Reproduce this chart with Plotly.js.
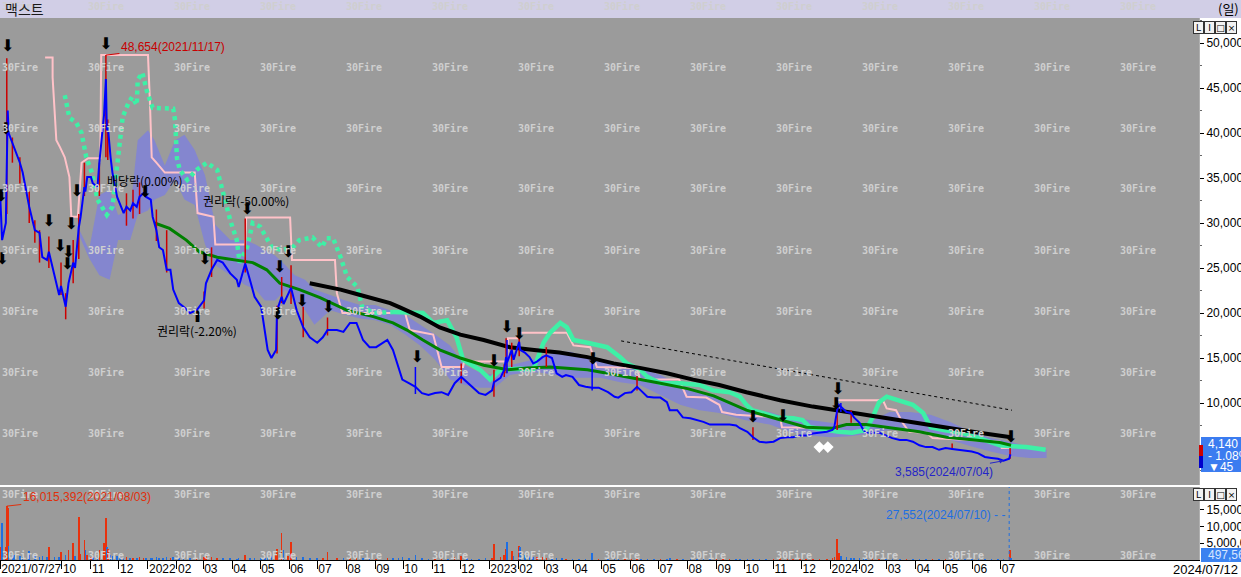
<!DOCTYPE html>
<html><head><meta charset="utf-8">
<script src="https://cdn.plot.ly/plotly-3.0.1.min.js"></script>
<style>html,body{margin:0;padding:0;background:#fff;overflow:hidden}#chart{width:1241px;height:577px}</style>
</head><body><div id="chart"></div>
<script>
// ---------- DATA ----------
const stockName = '맥스트';
const periodLabel = '(일)';

const dates = [
'2021-07-27','2021-07-29','2021-08-02','2021-08-03','2021-08-04','2021-08-05','2021-08-09','2021-08-11','2021-08-17','2021-08-20','2021-08-27',
'2021-09-02','2021-09-07','2021-09-10','2021-09-15','2021-09-17','2021-09-23','2021-09-28','2021-09-30',
'2021-10-05','2021-10-08','2021-10-13','2021-10-15','2021-10-19','2021-10-21','2021-10-25','2021-10-26','2021-10-28',
'2021-11-01','2021-11-03','2021-11-08','2021-11-10','2021-11-15','2021-11-17','2021-11-18','2021-11-19','2021-11-22','2021-11-24','2021-11-29',
'2021-12-02','2021-12-06','2021-12-09','2021-12-13','2021-12-16','2021-12-20','2021-12-23','2021-12-27','2021-12-30',
'2022-01-04','2022-01-06','2022-01-10','2022-01-13','2022-01-17','2022-01-21','2022-01-25','2022-01-28',
'2022-02-03','2022-02-08','2022-02-15','2022-02-22',
'2022-03-02','2022-03-04','2022-03-10','2022-03-16','2022-03-22','2022-03-30',
'2022-04-06','2022-04-08','2022-04-15','2022-04-20','2022-04-25',
'2022-05-02','2022-05-06','2022-05-09','2022-05-13','2022-05-18','2022-05-19','2022-05-24','2022-05-26','2022-05-31',
'2022-06-03','2022-06-09','2022-06-16','2022-06-23',
'2022-07-01','2022-07-07','2022-07-12','2022-07-22','2022-07-29','2022-08-05','2022-08-12','2022-08-19','2022-08-26',
'2022-09-02','2022-09-14','2022-09-20','2022-09-26','2022-09-30','2022-10-07','2022-10-14','2022-10-21','2022-10-28',
'2022-11-04','2022-11-11','2022-11-18','2022-11-25','2022-12-02','2022-12-08','2022-12-13','2022-12-21','2022-12-28',
'2023-01-04','2023-01-06','2023-01-13','2023-01-17','2023-01-19','2023-01-20','2023-01-25','2023-01-27',
'2023-02-02','2023-02-03','2023-02-08','2023-02-13','2023-02-17','2023-02-21','2023-02-27',
'2023-03-03','2023-03-09','2023-03-14','2023-03-20','2023-03-24','2023-03-31',
'2023-04-07','2023-04-14','2023-04-21','2023-04-28','2023-05-08','2023-05-15','2023-05-19','2023-05-26',
'2023-06-02','2023-06-08','2023-06-12','2023-06-19','2023-06-26','2023-07-03','2023-07-10','2023-07-13','2023-07-21','2023-07-27',
'2023-08-04','2023-08-11','2023-08-18','2023-08-25','2023-09-01','2023-09-08','2023-09-15','2023-09-22','2023-09-26',
'2023-10-04','2023-10-10','2023-10-17','2023-10-24','2023-11-01','2023-11-08','2023-11-16','2023-11-22','2023-11-29','2023-12-06','2023-12-13','2023-12-20','2023-12-28',
'2024-01-03','2024-01-05','2024-01-08','2024-01-10','2024-01-12','2024-01-18','2024-01-23','2024-01-26',
'2024-02-01','2024-02-05','2024-02-08','2024-02-15','2024-02-22','2024-02-29','2024-03-07','2024-03-15','2024-03-22','2024-03-29',
'2024-04-05','2024-04-12','2024-04-19','2024-04-26','2024-05-03','2024-05-10','2024-05-17','2024-05-24','2024-05-31',
'2024-06-07','2024-06-14','2024-06-21','2024-06-28','2024-07-04','2024-07-08','2024-07-10','2024-07-11','2024-07-12'
];
const closeValues = [
33000,28100,30000,40300,42500,40000,38900,38400,36700,35600,31800,
29200,28900,26200,25900,26800,24000,22000,23000,
20700,23300,25600,25000,29500,30700,34000,33500,35100,
35100,34400,34000,36700,42000,46000,40300,40800,37300,35600,32900,
32200,31100,31800,31400,32200,31800,32900,33300,32900,
32600,30700,29200,27300,27000,24800,24800,22600,
21100,20700,20000,20300,
21400,23300,24800,25900,25600,24400,
23700,22900,25500,23700,21800,
20700,18100,15900,15000,15900,20300,21800,21000,22200,
22800,20300,18400,17300,
16700,17300,18100,18100,17900,18900,18900,17000,16200,
16200,17000,15900,14000,12600,12200,11800,11100,10900,
11100,11200,10900,12200,12900,12300,11800,11100,10900,
11400,12300,12800,13700,15100,14500,15900,14800,
16800,15900,15600,15100,14400,14600,15100,
15300,15000,13300,12900,13100,12900,
12000,11800,11700,11700,11200,10700,10600,11100,
11200,11800,11400,10700,10600,10600,10100,9200,9200,8400,
8300,8100,7900,7600,7600,7600,7600,7500,7200,
6800,6200,5700,5600,5700,6100,6200,6200,6400,6400,6600,6700,6800,
7000,7300,9200,9800,9600,9000,8900,8400,
7800,7000,6700,6700,6700,6400,6100,5900,5900,5700,
5300,5100,5100,4800,5000,4900,4800,4700,4600,
4400,4000,3900,3800,3585,3700,3800,4185,4140
];
const volumeValues = [
3800000,11000000,4000000,16015392,15400000,4300000,2000000,1500000,1200000,1000000,2600000,
1200000,900000,1100000,800000,3800000,900000,1000000,2300000,
1500000,2900000,5200000,1200000,12800000,1800000,6000000,2900000,1500000,
900000,1000000,800000,2900000,5200000,12500000,4000000,3400000,1500000,1200000,1300000,
800000,700000,900000,600000,700000,600000,800000,700000,500000,
500000,700000,800000,700000,600000,900000,500000,800000,
700000,500000,600000,500000,
900000,1200000,800000,700000,500000,500000,
400000,500000,1500000,600000,500000,
600000,700000,900000,1100000,1500000,3400000,8100000,2900000,1200000,
5500000,900000,800000,700000,
600000,700000,2300000,600000,500000,700000,500000,600000,500000,
400000,600000,500000,700000,800000,500000,1500000,500000,400000,
400000,500000,400000,800000,1300000,500000,400000,400000,500000,
600000,4900000,1000000,1500000,3400000,5500000,2800000,1200000,
4300000,3800000,1500000,1200000,1000000,800000,900000,
700000,600000,500000,500000,400000,400000,
400000,300000,2000000,300000,300000,300000,300000,400000,
300000,700000,300000,300000,300000,300000,300000,600000,300000,400000,
300000,300000,300000,300000,300000,400000,300000,300000,300000,
300000,400000,350000,300000,300000,600000,300000,300000,300000,300000,300000,400000,300000,
500000,1000000,6300000,2000000,1200000,800000,600000,500000,
500000,500000,400000,300000,300000,300000,300000,300000,300000,300000,
300000,300000,300000,300000,300000,600000,300000,300000,300000,
300000,300000,300000,250000,300000,150000,27552,2900000,497565
];

// up-day (red) wick ranges
const upWickDates = ['2021-08-03','2021-08-09','2021-08-17','2021-09-02','2021-09-07','2021-09-30','2021-10-05','2021-10-13','2021-10-25','2021-11-10',
'2021-11-17','2021-12-09','2021-12-23','2022-01-21','2022-03-02','2022-03-10','2022-04-15','2022-05-24','2022-06-03','2022-06-16',
'2022-07-12','2022-12-02','2023-01-06','2023-01-19','2023-01-25','2023-02-02','2023-03-03','2023-06-08','2023-10-10','2024-01-08',
'2024-01-23','2024-05-10','2024-07-11','2021-08-27','2021-09-17','2021-10-19','2021-11-19','2021-12-16','2022-01-10','2022-05-19','2023-01-17'];
const upWickHigh = [48300,39500,37300,30300,29200,25600,22200,28100,36700,36700,
48654,33300,34500,29200,22400,27300,30500,24000,25300,20700,
19500,14400,13700,17200,16700,17800,16200,13100,7300,10300,
9200,5500,5000,33500,28500,31000,41500,33700,31500,20800,14300];
const upWickLow = [31000,36700,34400,27800,25600,22000,19300,23300,33000,33000,
37300,29700,31000,24500,20500,24000,24500,21100,21000,17300,
17500,12200,10700,13300,14000,15200,14000,11400,5900,7000,
7800,4900,3800,30000,25000,26000,37000,30500,28000,15500,12900];
// down-day (blue) wick ranges
const downWickDates = ['2022-10-14','2023-01-20','2023-04-21','2024-01-12'];
const downWickHigh = [14000,17000,14800,10000];
const downWickLow = [11000,13300,11400,9000];

// price channel (pink step line)
const channelDates = ['2021-09-13','2021-09-21','2021-09-21','2021-09-25','2021-09-29','2021-10-04','2021-10-09','2021-10-11','2021-10-18','2021-10-22',
'2021-10-29','2021-11-11','2021-11-12','2022-01-01','2022-01-03','2022-01-05','2022-01-10','2022-01-17','2022-01-19','2022-02-20',
'2022-02-23','2022-03-12','2022-03-14','2022-04-15','2022-04-16','2022-06-02','2022-06-04','2022-07-20','2022-07-22','2022-07-26',
'2022-07-28','2022-10-03','2022-10-08','2022-11-02','2022-11-06','2022-11-11','2022-12-04','2022-12-05','2023-01-20','2023-01-21',
'2023-02-01','2023-02-03','2023-03-25','2023-04-01','2023-04-19','2023-04-26','2023-06-08','2023-06-11','2023-07-23','2023-07-31',
'2023-08-21','2023-09-04','2023-09-07','2023-09-22','2023-11-08','2023-11-10','2024-01-07','2024-01-08','2024-02-26','2024-03-01',
'2024-03-11','2024-03-18','2024-03-25','2024-04-13','2024-04-19','2024-06-30','2024-07-02','2024-07-12'];
const channelValues = [48400,48400,46200,39200,38400,37300,35100,30700,30700,36700,
37200,37200,48654,48654,43700,37300,36700,35900,35600,35600,
31100,30700,27600,27600,30600,30600,25900,25900,22200,20700,
20000,20000,18100,17600,15900,14000,14000,14600,14600,17200,
17200,17800,17800,16400,16200,14000,13900,12600,12600,10700,
10600,9800,9000,8700,8400,7300,7200,10300,10300,9400,
9200,7800,6800,6700,6100,5700,5000,5000];

// mint line
const mintDates = ['2021-10-04','2021-10-09','2021-10-16','2021-10-22','2021-10-27','2021-11-02','2021-11-08','2021-11-18','2021-11-24','2021-11-30',
'2021-12-05','2021-12-11','2021-12-15','2021-12-20','2021-12-21','2021-12-26','2021-12-31','2022-01-06','2022-01-28','2022-01-30',
'2022-02-01','2022-02-04','2022-02-12','2022-02-22','2022-03-05','2022-03-16','2022-03-22','2022-03-30','2022-04-06','2022-04-09',
'2022-04-17','2022-04-23','2022-05-01','2022-05-08','2022-05-14','2022-05-25','2022-06-05','2022-06-12','2022-06-26','2022-07-06',
'2022-07-11','2022-07-18','2022-07-26','2022-08-02','2022-08-13','2022-08-18','2022-08-30','2022-09-20','2022-10-05','2022-10-22',
'2022-11-02','2022-11-17','2022-11-27','2022-12-04','2022-12-22','2023-01-02','2023-01-13','2023-02-03','2023-02-17','2023-02-28',
'2023-03-07','2023-03-18','2023-03-25','2023-04-01','2023-04-16','2023-05-07','2023-05-21','2023-05-28','2023-06-11','2023-06-19',
'2023-07-03','2023-07-24','2023-08-14','2023-08-28','2023-09-15','2023-09-26','2023-10-03','2023-10-09','2023-10-20','2023-11-05',
'2023-11-22','2023-12-02','2023-12-10','2023-12-28','2024-01-10','2024-01-24','2024-02-08','2024-02-15','2024-02-22','2024-03-01',
'2024-03-15','2024-03-29','2024-04-09','2024-04-17','2024-05-01','2024-05-19','2024-06-08','2024-06-30','2024-07-13','2024-07-28','2024-08-18'];
const mintValues = [44200,41700,41200,40000,37300,35600,32600,30900,31800,37300,
41800,43300,44000,43100,45900,46700,44600,42800,42700,41400,
37200,35900,34800,35900,36700,35900,33300,30300,28100,25600,
27300,30000,29600,28400,27200,27000,27300,28100,28400,27300,
28300,28300,26200,24000,22900,20700,20000,20100,20000,20000,
18900,19200,17300,14800,13700,12600,13700,13800,13700,16700,
17800,18900,18400,17000,16700,16200,15100,14400,13700,12900,
12200,12200,12000,11400,11200,10700,9800,9200,8900,8400,
8300,8100,7300,7000,6800,6700,7000,8400,10100,10700,
10300,9800,8900,7300,7000,6700,6100,5300,5200,5100,4800];
const mintDottedUntil = '2022-09-20';

// 120-day moving average (green)
const ma120Dates = ['2022-01-08','2022-01-24','2022-02-11','2022-02-25','2022-03-16','2022-04-02','2022-04-23','2022-05-08','2022-05-22','2022-06-12',
'2022-07-04','2022-08-02','2022-08-30','2022-09-20','2022-10-05','2022-10-22','2022-11-09','2022-12-01','2022-12-26','2023-01-21',
'2023-02-11','2023-03-07','2023-03-25','2023-04-16','2023-05-07','2023-06-04','2023-07-03','2023-08-01','2023-08-29','2023-10-03',
'2023-11-01','2023-12-06','2024-01-03','2024-01-18','2024-02-08','2024-03-07','2024-04-05','2024-05-04','2024-06-01','2024-06-30','2024-07-12'];
const ma120Values = [30000,29400,28100,26800,26200,25900,25600,24800,23300,22600,
21700,20300,19600,18900,18100,17000,15900,15000,14200,13700,
13900,14000,13900,13700,13300,12800,12200,11600,10800,9200,
8300,7300,7200,7600,7600,7200,6800,6200,5900,5600,5300];

// 240-day moving average (black)
const ma240Dates = ['2022-06-23','2022-07-26','2022-08-16','2022-09-17','2022-09-28','2022-10-19','2022-11-09','2022-12-01','2022-12-26','2023-01-23',
'2023-02-18','2023-03-17','2023-04-16','2023-05-14','2023-06-11','2023-07-10','2023-08-07','2023-09-04','2023-10-03','2023-11-08',
'2023-12-13','2024-01-18','2024-02-22','2024-03-29','2024-05-04','2024-06-08','2024-07-12'];
const ma240Values = [23300,22600,22000,21100,20600,19600,18400,17600,17000,16200,
15900,15600,15100,14400,13900,13300,12600,12000,11200,10300,
9600,9000,8400,7800,7200,6700,6200];

// cloud band
const cloudDates = ['2021-10-17','2021-10-30','2021-11-10','2021-11-21','2021-11-30','2021-12-13','2021-12-21','2022-01-01','2022-01-08','2022-01-19',
'2022-01-30','2022-02-09','2022-02-20','2022-03-03','2022-03-14','2022-03-30','2022-04-15','2022-04-26','2022-05-06','2022-05-17',
'2022-05-28','2022-06-07','2022-06-18','2022-06-28','2022-07-15','2022-07-31','2022-08-16','2022-09-01','2022-09-17','2022-10-03',
'2022-10-19','2022-11-04','2022-11-20','2022-12-06','2022-12-22','2023-01-07','2023-01-23','2023-02-08','2023-02-24','2023-03-13',
'2023-03-29','2023-04-13','2023-04-30','2023-05-21','2023-06-11','2023-07-03','2023-07-24','2023-08-14','2023-09-04','2023-10-01',
'2023-10-28','2023-11-18','2023-12-10','2024-01-01','2024-01-22','2024-02-12','2024-03-04','2024-03-26','2024-04-17','2024-05-08',
'2024-05-30','2024-06-20','2024-07-11','2024-08-01','2024-08-19'];
const cloudUpper = [29800,27000,33100,33700,30900,31400,39200,40300,39200,36400,
39200,39800,38100,35300,29800,28100,28100,27600,27000,26400,
25300,24200,23700,22600,22000,21400,20900,20900,20300,19800,
18700,17600,16400,14200,13400,13100,14200,14600,15000,15700,
15700,15200,14600,14200,13900,13100,12000,11400,10700,9400,
9000,8300,8100,7800,7600,7900,9000,9000,8700,7900,
6800,6100,5700,5100,4800];
const cloudLower = [29200,26100,24200,23700,28100,28100,30900,31400,32600,33100,
34800,32600,32000,27600,25300,24200,23100,22600,21400,21400,
22600,21400,20300,18700,20300,19800,19400,19200,18700,17600,
16400,14800,12600,12000,11700,11700,13100,13400,13400,13100,
12800,12800,12800,12300,12000,10900,9800,9200,8900,8100,
7600,6800,6400,6200,6300,6600,7000,7000,6400,5900,
5200,4600,4100,3900,3900];

// trend line
const trendDates = ['2023-05-22','2024-07-13'];
const trendValues = [16900,9200];

// signal arrows
const sellSignalDates = ['2021-07-28','2021-07-29','2021-08-02','2021-08-04','2021-09-17','2021-09-29','2021-10-07','2021-10-08','2021-10-11','2021-10-17',
'2021-11-17','2021-12-29','2022-03-03','2022-04-17','2022-05-20','2022-05-22','2022-05-31','2022-06-15','2022-07-13','2022-10-16',
'2023-01-06','2023-01-20','2023-02-02','2023-04-22','2023-10-10','2023-11-11','2024-01-07','2024-01-09','2024-07-12'];
const sellSignalLevels = [32900,25900,40300,49600,30100,27300,25300,26700,29800,33400,
49800,33300,25900,31400,19800,25000,26700,21200,20600,15000,
14600,18300,17600,14800,8300,8400,9800,11400,6100];
const buySignalDates = ['2022-02-23'];
const buySignalLevels = [19400];
const diamondDates = ['2023-12-20','2023-12-29'];
const diamondLevels = [5100,5100];

// corporate events
const eventDates = ['2021-12-29','2022-04-16','2022-02-22'];
const eventLevels = [34700,32550,18100];
const eventTexts = ['배당락(0.00%)','권리락(-50.00%)','권리락(-2.20%)'];

// extremes
const highDate = '2021-11-17', highValue = 48654;
const lowDate = '2024-07-04', lowValue = 3585;
const volMaxDate = '2021-08-03', volMaxValue = 16015392;
const markDate = '2024-07-10', markVolume = 27552;

// axis ticks
const tickDates = ['2021-07-27','2021-10-01','2021-11-01','2021-12-01','2022-01-01','2022-02-01','2022-03-01','2022-04-01','2022-05-01','2022-06-01',
'2022-07-01','2022-08-01','2022-09-01','2022-10-01','2022-11-01','2022-12-01','2023-01-01','2023-02-01','2023-03-01','2023-04-01',
'2023-05-01','2023-06-01','2023-07-01','2023-08-01','2023-09-01','2023-10-01','2023-11-01','2023-12-01','2024-01-01','2024-02-01',
'2024-03-01','2024-04-01','2024-05-01','2024-06-01','2024-07-01'];
const tickLabels = ['2021/07/27','10','11','12','2022','02','03','04','05','06',
'07','08','09','10','11','12','2023','02','03','04',
'05','06','07','08','09','10','11','12','2024','02',
'03','04','05','06','07'];
const priceTicks = [10000,15000,20000,25000,30000,35000,40000,45000,50000];
const volumeTicks = [5000000,10000000,15000000];

// ---------- BUILD ----------
const fmt = n => n.toLocaleString('en-US');
const W = 1241, H = 577, MR = 42, MT = 18, MB = 17;
const PW = W - MR, PH = H - MT - MB;
const px = x => x / PW;
const py = y => (H - MB - y) / PH;

const volColors = closeValues.map((c, i) => (i === 0 || c >= closeValues[i - 1]) ? '#e8320e' : '#1f6fe2');

function wickXY(ds, hi, lo) {
  const x = [], y = [];
  ds.forEach((d, i) => { x.push(d, d, null); y.push(hi[i], lo[i], null); });
  return {x, y};
}
const upW = wickXY(upWickDates, upWickHigh, upWickLow);
const dnW = wickXY(downWickDates, downWickHigh, downWickLow);

const splitIdx = mintDates.indexOf(mintDottedUntil);
const mintEarlyX = mintDates.slice(0, splitIdx + 1), mintEarlyY = mintValues.slice(0, splitIdx + 1);
const mintLateX = mintDates.slice(splitIdx), mintLateY = mintValues.slice(splitIdx);

const traces = [
  {x: cloudDates, y: cloudUpper, mode: 'lines', line: {width: 0, color: '#8485cf'}, hoverinfo: 'skip'},
  {x: cloudDates, y: cloudLower, mode: 'lines', line: {width: 0, color: '#8485cf'}, fill: 'tonexty', fillcolor: '#8486cf', hoverinfo: 'skip'},
  {x: channelDates, y: channelValues, mode: 'lines', line: {color: '#ffc2c8', width: 2}, hoverinfo: 'skip'},
  {x: mintEarlyX, y: mintEarlyY, mode: 'lines', line: {color: '#3ef0a6', width: 4.5, dash: '4px,4px'}, hoverinfo: 'skip'},
  {x: mintLateX, y: mintLateY, mode: 'lines', line: {color: '#3ef0a6', width: 4.5}, hoverinfo: 'skip'},
  {x: ma120Dates, y: ma120Values, mode: 'lines', line: {color: '#008000', width: 3}, hoverinfo: 'skip'},
  {x: ma240Dates, y: ma240Values, mode: 'lines', line: {color: '#000000', width: 4}, hoverinfo: 'skip'},
  {x: trendDates, y: trendValues, mode: 'lines', line: {color: '#000000', width: 1, dash: '3px,3px'}, hoverinfo: 'skip'},
  {x: upW.x, y: upW.y, mode: 'lines', line: {color: '#cc0000', width: 1.5}, connectgaps: false, hoverinfo: 'skip'},
  {x: dnW.x, y: dnW.y, mode: 'lines', line: {color: '#0000ff', width: 1.5}, connectgaps: false, hoverinfo: 'skip'},
  {x: dates, y: closeValues, mode: 'lines', line: {color: '#0000ff', width: 2}, hoverinfo: 'skip'},
  {x: diamondDates, y: diamondLevels, mode: 'markers', marker: {symbol: 'diamond', size: 9, color: '#ffffff'}, hoverinfo: 'skip'},
  {x: sellSignalDates, y: sellSignalLevels, mode: 'text', text: sellSignalDates.map(() => '⬇'),
   textfont: {family: 'DejaVu Sans', size: 16, color: '#000'}, textposition: 'middle center', hoverinfo: 'skip'},
  {x: buySignalDates, y: buySignalLevels, mode: 'text', text: buySignalDates.map(() => '⬆'),
   textfont: {family: 'DejaVu Sans', size: 16, color: '#000'}, textposition: 'middle center', hoverinfo: 'skip'},
  {type: 'bar', x: dates, y: volumeValues, yaxis: 'y2', marker: {color: volColors, line: {width: 0}},
   width: 86400000 * 1.7, hoverinfo: 'skip'}
];

const annotations = [];
// watermarks
for (let r = 0; r < 10; r++) {
  for (let c = 0; c < 14; c++) {
    annotations.push({xref: 'paper', yref: 'paper', x: px(c * 86), y: py(6 + r * 61), xanchor: 'left', yanchor: 'middle',
      text: '<b>30Fire</b>', showarrow: false, font: {family: 'DejaVu Sans Mono', size: 10, color: '#cfcfcf'}});
  }
}
annotations.push(
  {xref: 'paper', yref: 'paper', x: px(3), y: py(9), xanchor: 'left', yanchor: 'middle', text: stockName, showarrow: false,
   font: {family: 'Noto Sans CJK KR', size: 14, color: '#1a1a1a'}},
  {xref: 'paper', yref: 'paper', x: px(1241), y: py(9), xanchor: 'right', yanchor: 'middle', text: periodLabel, showarrow: false,
   font: {family: 'Noto Sans CJK KR', size: 13, color: '#000'}},
  {x: highDate, y: highValue, xref: 'x', yref: 'y', text: fmt(highValue) + '(' + highDate.replace(/-/g, '/') + ')',
   showarrow: true, arrowhead: 0, arrowwidth: 1, arrowcolor: '#cc0000', ax: 67, ay: -8, font: {size: 12, color: '#c80000'}},
  {x: lowDate, y: lowValue, xref: 'x', yref: 'y', text: fmt(lowValue) + '(' + lowDate.replace(/-/g, '/') + ')',
   showarrow: true, arrowhead: 2, arrowsize: 0.8, arrowwidth: 1, arrowcolor: '#2424c8', ax: -60, ay: 11, font: {size: 12, color: '#2424c8'}},
  {x: volMaxDate, y: volMaxValue, xref: 'x', yref: 'y2', text: fmt(volMaxValue) + '(' + volMaxDate.replace(/-/g, '/') + ')',
   showarrow: true, arrowhead: 0, arrowwidth: 1, arrowcolor: '#e0300c', ax: 80, ay: -9, font: {size: 12, color: '#e0300c'}},
  {x: markDate, y: 13400000, xref: 'x', yref: 'y2', xanchor: 'right', yanchor: 'middle', xshift: -2,
   text: fmt(markVolume) + '(' + markDate.replace(/-/g, '/') + ') - -', showarrow: false, font: {size: 12, color: '#1f6fe2'}}
);
eventTexts.forEach((t, i) => annotations.push({x: eventDates[i], y: eventLevels[i], xref: 'x', yref: 'y', text: t, showarrow: false,
  font: {family: 'Noto Sans CJK KR', size: 12, color: '#000'}}));

// last price box
const n = closeValues.length;
const last = closeValues[n - 1], prev = closeValues[n - 2];
const diff = last - prev, pct = diff / prev * 100;
const boxLines = [fmt(last), (pct < 0 ? '- ' : '+ ') + Math.abs(pct).toFixed(2) + '%', (diff < 0 ? '▼' : '▲') + Math.abs(diff)];
boxLines.forEach((t, i) => annotations.push({xref: 'paper', yref: 'paper', x: px(1206), y: py(444 + i * 11.5), xanchor: 'left', yanchor: 'middle',
  text: t, showarrow: false, font: {size: 12, color: '#ffffff'}}));
annotations.push({xref: 'paper', yref: 'paper', x: px(1206), y: py(555), xanchor: 'left', yanchor: 'middle',
  text: fmt(volumeValues[n - 1]), showarrow: false, font: {size: 12, color: '#d6e6ff'}});
annotations.push({xref: 'paper', yref: 'paper', x: px(1240), y: py(569), xanchor: 'right', yanchor: 'middle',
  text: dates[n - 1].replace(/-/g, '/'), showarrow: false, font: {size: 13, color: '#000'}});
// panel buttons
['L', 'I', '□', '×'].forEach((t, i) => {
  [27, 494].forEach(yy => annotations.push({xref: 'paper', yref: 'paper', x: px(1198 + i * 11), y: py(yy), xanchor: 'center', yanchor: 'middle',
    text: t, showarrow: false, bgcolor: '#f2f2f2', bordercolor: '#333', borderwidth: 1, borderpad: 0, width: 9, height: 11,
    font: {size: 9, color: '#000', family: 'DejaVu Sans'}}));
});

const shapes = [
  {type: 'rect', xref: 'paper', yref: 'paper', x0: 0, x1: px(W + 5), y0: py(18), y1: py(-2), fillcolor: '#d1cee6', line: {width: 0}, layer: 'below'},
  {type: 'line', xref: 'x', yref: 'y2 domain', x0: markDate, x1: markDate, y0: 0, y1: 1, line: {color: '#1f6fe2', width: 1, dash: '3px,3px'}},
  {type: 'rect', xref: 'paper', yref: 'paper', x0: px(1201), x1: px(W + 6), y0: py(472), y1: py(437), fillcolor: '#3b7cf0', line: {width: 0}},
  {type: 'rect', xref: 'paper', yref: 'paper', x0: px(1201), x1: px(W + 6), y0: py(562), y1: py(548), fillcolor: '#3b82f0', line: {width: 0}},
  {type: 'rect', xref: 'paper', yref: 'paper', x0: px(1199), x1: px(1203), y0: py(456), y1: py(445), fillcolor: '#cc0000', line: {width: 0}},
  {type: 'rect', xref: 'paper', yref: 'paper', x0: px(1199), x1: px(1203), y0: py(468), y1: py(456), fillcolor: '#0000cc', line: {width: 0}}
];

const layout = {
  width: W, height: H, margin: {l: 0, r: MR, t: MT, b: MB, pad: 0},
  paper_bgcolor: '#ffffff', plot_bgcolor: '#9b9b9b', showlegend: false, hovermode: false,
  font: {family: 'Liberation Sans, Arial, sans-serif', size: 12, color: '#000'},
  xaxis: {type: 'date', range: ['2021-07-26 18:00', '2025-01-29'], anchor: 'y2', tickmode: 'array', tickvals: tickDates, ticktext: tickLabels,
    ticks: 'outside', ticklen: 8, tickcolor: '#000', tickwidth: 1, tickangle: 0, showline: true, linecolor: '#000', linewidth: 1,
    showgrid: false, zeroline: false, ticklabelposition: 'outside right', ticklabelstandoff: -2, tickfont: {size: 12, color: '#000'}},
  yaxis: {domain: [(H - MB - 485) / PH, 1], range: [889, 52778], side: 'right', anchor: 'x', tickmode: 'array', tickvals: priceTicks,
    ticktext: priceTicks.map(fmt), ticks: 'outside', ticklen: 4, tickcolor: '#000', showgrid: false, zeroline: false,
    showline: true, linecolor: '#b0b0b0', tickfont: {size: 12, color: '#000'},
    minor: {dtick: 2500, tick0: 0, ticks: 'outside', ticklen: 2, tickcolor: '#666'}},
  yaxis2: {domain: [0, (H - MB - 487) / PH], range: [0, 21700000], side: 'right', anchor: 'x', tickmode: 'array', tickvals: volumeTicks,
    ticktext: volumeTicks.map(fmt), ticks: 'outside', ticklen: 4, tickcolor: '#000', showgrid: false, zeroline: false,
    showline: true, linecolor: '#b0b0b0', tickfont: {size: 12, color: '#000'}},
  annotations, shapes, bargap: 0
};

Plotly.newPlot('chart', traces, layout, {staticPlot: true, displayModeBar: false});
</script></body></html>
